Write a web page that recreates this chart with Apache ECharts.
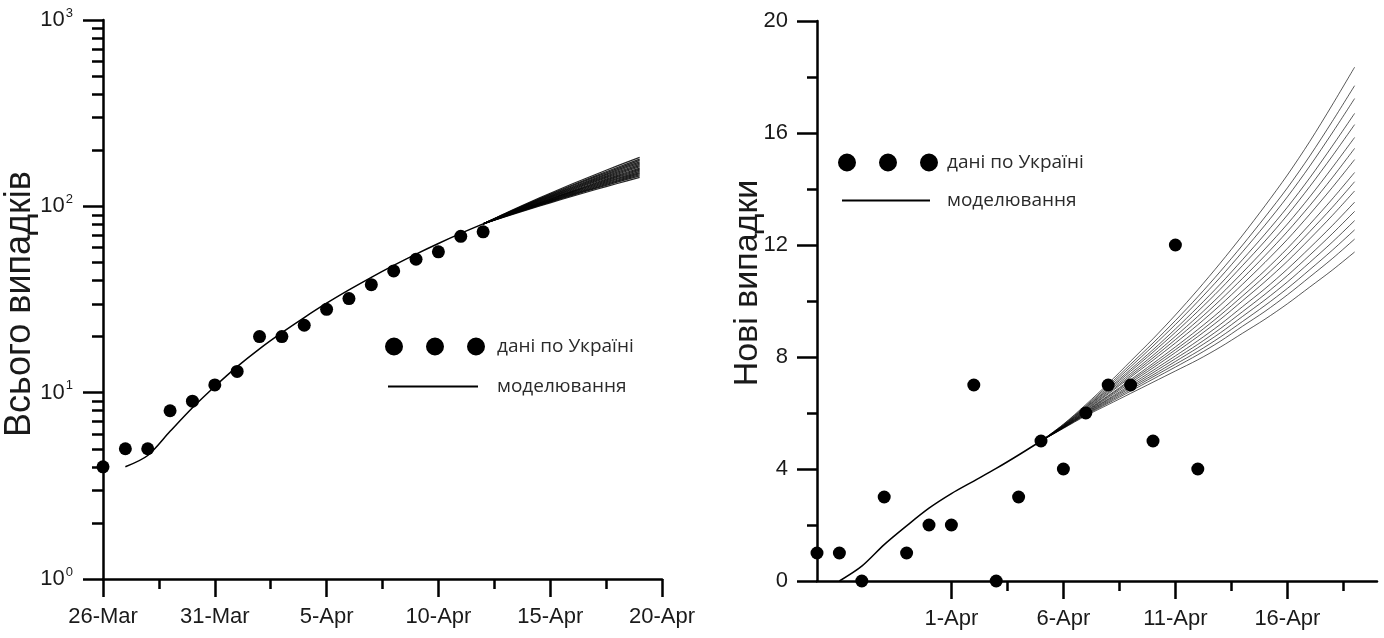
<!DOCTYPE html>
<html>
<head>
<meta charset="utf-8">
<script src="https://cdn.jsdelivr.net/npm/echarts@6/dist/echarts.min.js"></script>
<style>
html, body { margin: 0; padding: 0; background: #fff; }
#chart { width: 1384px; height: 638px; }
</style>
</head>
<body>
<div id="chart"></div>
<script>
// day index on both x axes: 0 = 26-Mar, 25 = 20-Apr
const dataDays = [0, 1, 2, 3, 4, 5, 6, 7, 8, 9, 10, 11, 12, 13, 14, 15, 16, 17];
const totalCases = [4, 5, 5, 8, 9, 11, 13, 20, 20, 23, 28, 32, 38, 45, 52, 57, 69, 73];
const newCases = [1, 1, 0, 3, 1, 2, 2, 7, 0, 3, 5, 4, 6, 7, 7, 5, 12, 4];

// cumulative model, common part
const leftModelDays = [1, 2, 3, 4, 5, 6, 7, 8, 9, 10, 11, 12, 13, 14, 15, 16, 17];
const leftModel = [4.0, 4.6, 6.2, 8.3, 10.8, 13.8, 17.2, 21.0, 25.3, 30.2, 35.6, 41.6, 48.2, 55.4, 63.2, 71.6, 80.5];

// cumulative model, fan of scenarios (12-Apr .. 19-Apr)
const leftFanDays = [17, 18, 19, 20, 21, 22, 23, 24];
const leftFan = [
    [80.5, 88.0, 96.0, 104.4, 113.3, 122.7, 132.6, 143.0],
    [80.5, 88.3, 96.6, 105.3, 114.6, 124.5, 134.9, 145.8],
    [80.5, 88.5, 97.0, 106.0, 115.6, 125.7, 136.5, 147.8],
    [80.5, 88.7, 97.4, 106.6, 116.5, 127.0, 138.1, 149.8],
    [80.5, 88.9, 97.8, 107.3, 117.4, 128.2, 139.7, 151.8],
    [80.5, 89.1, 98.2, 108.0, 118.4, 129.5, 141.3, 153.9],
    [80.5, 89.3, 98.7, 108.8, 119.5, 131.0, 143.2, 156.3],
    [80.5, 89.5, 99.1, 109.4, 120.4, 132.2, 144.8, 158.3],
    [80.5, 89.7, 99.5, 110.1, 121.4, 133.5, 146.5, 160.3],
    [80.5, 90.0, 100.1, 111.0, 122.7, 135.3, 148.7, 163.1],
    [80.5, 90.2, 100.6, 111.8, 123.8, 136.8, 150.6, 165.5],
    [80.5, 90.4, 101.1, 112.6, 125.0, 138.3, 152.6, 167.9],
    [80.5, 90.7, 101.7, 113.5, 126.3, 140.0, 154.8, 170.7],
    [80.5, 90.9, 102.2, 114.3, 127.4, 141.5, 156.8, 173.2],
    [80.5, 91.2, 102.8, 115.4, 128.9, 143.5, 159.3, 176.4],
    [80.5, 91.5, 103.4, 116.3, 130.2, 145.3, 161.6, 179.2],
    [80.5, 91.9, 104.2, 117.6, 132.1, 147.8, 164.8, 183.2]
];

// daily model, common part
const rightModelDays = [1, 2, 3, 4, 5, 6, 7, 8, 9, 10];
const rightModel = [0, 0.53, 1.3, 1.97, 2.6, 3.12, 3.57, 4.02, 4.5, 5.0];

// daily model, fan of scenarios (5-Apr .. 19-Apr)
const rightFanDays = [10, 11, 12, 13, 14, 15, 16, 17, 18, 19, 20, 21, 22, 23, 24];
const rightFan = [
    [5.0, 5.45, 5.9, 6.3, 6.7, 7.1, 7.5, 7.9, 8.35, 8.85, 9.35, 9.9, 10.5, 11.1, 11.75],
    [5.0, 5.46, 5.93, 6.35, 6.78, 7.21, 7.64, 8.08, 8.56, 9.1, 9.63, 10.22, 10.86, 11.51, 12.21],
    [5.0, 5.47, 5.95, 6.39, 6.84, 7.29, 7.74, 8.2, 8.71, 9.27, 9.84, 10.45, 11.12, 11.81, 12.54],
    [5.0, 5.48, 5.97, 6.43, 6.9, 7.36, 7.84, 8.33, 8.86, 9.45, 10.04, 10.68, 11.38, 12.1, 12.87],
    [5.0, 5.48, 5.99, 6.47, 6.95, 7.44, 7.94, 8.45, 9.01, 9.62, 10.24, 10.91, 11.64, 12.4, 13.2],
    [5.0, 5.49, 6.01, 6.5, 7.01, 7.52, 8.04, 8.58, 9.16, 9.8, 10.44, 11.14, 11.9, 12.69, 13.53],
    [5.0, 5.5, 6.03, 6.55, 7.08, 7.61, 8.16, 8.73, 9.34, 10.01, 10.69, 11.42, 12.22, 13.05, 13.93],
    [5.0, 5.51, 6.05, 6.59, 7.14, 7.69, 8.26, 8.85, 9.49, 10.18, 10.89, 11.65, 12.48, 13.34, 14.26],
    [5.0, 5.51, 6.07, 6.62, 7.19, 7.77, 8.36, 8.98, 9.64, 10.36, 11.09, 11.88, 12.74, 13.64, 14.59],
    [5.0, 5.53, 6.1, 6.68, 7.28, 7.88, 8.5, 9.15, 9.85, 10.6, 11.38, 12.2, 13.1, 14.05, 15.05],
    [5.0, 5.53, 6.12, 6.72, 7.34, 7.97, 8.62, 9.3, 10.03, 10.81, 11.62, 12.48, 13.41, 14.4, 15.45],
    [5.0, 5.54, 6.15, 6.77, 7.41, 8.06, 8.74, 9.45, 10.21, 11.02, 11.86, 12.75, 13.72, 14.76, 15.84],
    [5.0, 5.55, 6.18, 6.82, 7.49, 8.17, 8.88, 9.63, 10.42, 11.27, 12.14, 13.07, 14.09, 15.17, 16.3],
    [5.0, 5.56, 6.2, 6.86, 7.56, 8.26, 9.0, 9.78, 10.6, 11.48, 12.39, 13.35, 14.4, 15.53, 16.7],
    [5.0, 5.57, 6.23, 6.92, 7.65, 8.39, 9.16, 9.98, 10.84, 11.76, 12.71, 13.72, 14.82, 16.0, 17.23],
    [5.0, 5.59, 6.26, 6.98, 7.74, 8.5, 9.3, 10.15, 11.05, 12.0, 13.0, 14.04, 15.18, 16.41, 17.69],
    [5.0, 5.6, 6.3, 7.05, 7.85, 8.65, 9.5, 10.4, 11.35, 12.35, 13.4, 14.5, 15.7, 17.0, 18.35]
];

// tick labels
const leftXLabels = ["26-Mar", "31-Mar", "5-Apr", "10-Apr", "15-Apr", "20-Apr"];
const rightXTicks = [6, 11, 16, 21];
const rightXLabels = ["1-Apr", "6-Apr", "11-Apr", "16-Apr"];
const rightXMinor = [8.5, 13.5, 18.5, 23.5];
const leftYTicks = [1, 10, 100, 1000];
const leftYMinor = [2, 3, 4, 5, 6, 7, 8, 9, 20, 30, 40, 50, 60, 70, 80, 90, 200, 300, 400, 500, 600, 700, 800, 900];

const pts = (xs, ys) => xs.map((x, i) => [x, ys[i]]);

const axisFont = { fontFamily: "Liberation Sans", fontSize: 22, color: "#1a1a1a" };
const black = { color: "#000", width: 2.5 };
const dotsIcon =
    "path://M0,9A9,9,0,1,1,18,9A9,9,0,1,1,0,9Z M41,9A9,9,0,1,1,59,9A9,9,0,1,1,41,9Z M82,9A9,9,0,1,1,100,9A9,9,0,1,1,82,9Z";
const legendText = { fontFamily: "Open Sans", fontSize: 19, color: "#2a2a2a" };

function legend(name, icon, left, top, w, h, pad) {
    return {
        data: [{ name, icon, itemStyle: { color: "#000", opacity: 1 } }],
        left, top, itemWidth: w, itemHeight: h, padding: 0,
        selectedMode: false,
        textStyle: { ...legendText, padding: [0, 0, 0, pad] },
    };
}

// axis that only draws ticks at given values (no line, blank labels)
function tickOnlyAxis(extra, values, length) {
    return {
        ...extra,
        axisLine: { show: false },
        axisTick: { show: true, length, lineStyle: black, customValues: values },
        axisLabel: { show: true, customValues: values, formatter: () => "" },
        splitLine: { show: false },
    };
}

const chart = echarts.init(document.getElementById("chart"));

const series = [];
leftFan.forEach((row) => {
    series.push({
        type: "line", name: "fan", xAxisIndex: 0, yAxisIndex: 0,
        data: pts(leftFanDays, row), showSymbol: false, smooth: 0.3, silent: true,
        lineStyle: { color: "rgba(0,0,0,0.85)", width: 1.2 },
    });
});
series.push({
    type: "line", name: "моделювання", xAxisIndex: 0, yAxisIndex: 0,
    data: pts(leftModelDays, leftModel), showSymbol: false, smooth: 0.3,
    lineStyle: { color: "#000", width: 1.5 }, itemStyle: { color: "#000" },
});
series.push({
    type: "scatter", name: "дані по Україні", xAxisIndex: 0, yAxisIndex: 0,
    data: pts(dataDays, totalCases), symbolSize: 13, clip: false,
    itemStyle: { color: "#000", opacity: 1 }, z: 5,
});
rightFan.forEach((row) => {
    series.push({
        type: "line", name: "fan", xAxisIndex: 1, yAxisIndex: 2,
        data: pts(rightFanDays, row), showSymbol: false, smooth: 0.3, silent: true,
        lineStyle: { color: "rgba(0,0,0,0.65)", width: 1 },
    });
});
series.push({
    type: "line", name: "моделювання", xAxisIndex: 1, yAxisIndex: 2,
    data: pts(rightModelDays, rightModel), showSymbol: false, smooth: 0.3,
    lineStyle: { color: "#000", width: 1.5 }, itemStyle: { color: "#000" },
});
series.push({
    type: "scatter", name: "дані по Україні", xAxisIndex: 1, yAxisIndex: 2,
    data: pts(dataDays, newCases), symbolSize: 13, clip: false,
    itemStyle: { color: "#000", opacity: 1 }, z: 5,
});

chart.setOption({
    animation: false,
    backgroundColor: "#fff",
    grid: [
        { left: 103, top: 20, width: 559, height: 559, outerBoundsMode: "none" },
        { left: 817, top: 21, width: 560, height: 560, outerBoundsMode: "none" },
    ],
    xAxis: [
        {
            gridIndex: 0, type: "value", min: 0, max: 25, interval: 5,
            axisLine: { lineStyle: black },
            axisTick: { length: 18, lineStyle: black },
            minorTick: { show: true, splitNumber: 2, length: 10, lineStyle: black },
            axisLabel: { ...axisFont, margin: 27, formatter: (v) => leftXLabels[v / 5] },
            splitLine: { show: false },
        },
        {
            gridIndex: 1, type: "value", min: 0, max: 25,
            axisLine: { lineStyle: black },
            axisTick: { length: 18, lineStyle: black, customValues: rightXTicks },
            axisLabel: {
                ...axisFont, margin: 27, customValues: rightXTicks,
                formatter: (v) => rightXLabels[rightXTicks.indexOf(v)],
            },
            splitLine: { show: false },
        },
        tickOnlyAxis({ gridIndex: 1, type: "value", min: 0, max: 25, position: "bottom" }, rightXMinor, 10),
    ],
    yAxis: [
        {
            gridIndex: 0, type: "log", logBase: 10, min: 1, max: 1000,
            axisLine: { show: true, lineStyle: black },
            axisTick: { show: true, length: 20, lineStyle: black, customValues: leftYTicks },
            axisLabel: {
                margin: 30, customValues: leftYTicks,
                formatter: (v) => "{b|10}{s|" + Math.round(Math.log10(v)) + "}",
                rich: {
                    b: { ...axisFont },
                    s: { fontFamily: "Liberation Sans", fontSize: 13, color: "#1a1a1a", padding: [0, 0, 14, 1] },
                },
            },
            splitLine: { show: false },
        },
        tickOnlyAxis({ gridIndex: 0, type: "log", logBase: 10, min: 1, max: 1000, position: "left" }, leftYMinor, 11),
        {
            gridIndex: 1, type: "value", min: 0, max: 20, interval: 4,
            axisLine: { show: true, lineStyle: black },
            axisTick: { show: true, length: 20, lineStyle: black },
            minorTick: { show: true, splitNumber: 2, length: 10, lineStyle: black },
            axisLabel: { ...axisFont, margin: 29 },
            splitLine: { show: false },
        },
    ],
    legend: [
        legend("дані по Україні", dotsIcon, 385, 337, 100, 18, 7),
        legend("моделювання", "rect", 388, 377, 90, 2, 14),
        legend("дані по Україні", dotsIcon, 838, 153, 100, 18, 4),
        legend("моделювання", "rect", 842, 191, 88, 2, 12),
    ],
    graphic: [
        {
            type: "text", x: 20, y: 304, rotation: Math.PI / 2,
            style: {
                text: "Всього випадків", fontFamily: "Liberation Sans", fontSize: 36,
                fill: "#1a1a1a", align: "center", verticalAlign: "middle",
            },
        },
        {
            type: "text", x: 748, y: 283, rotation: Math.PI / 2,
            style: {
                text: "Нові випадки", fontFamily: "Liberation Sans", fontSize: 34,
                fill: "#1a1a1a", align: "center", verticalAlign: "middle",
            },
        },
    ],
    series,
});
</script>
</body>
</html>
